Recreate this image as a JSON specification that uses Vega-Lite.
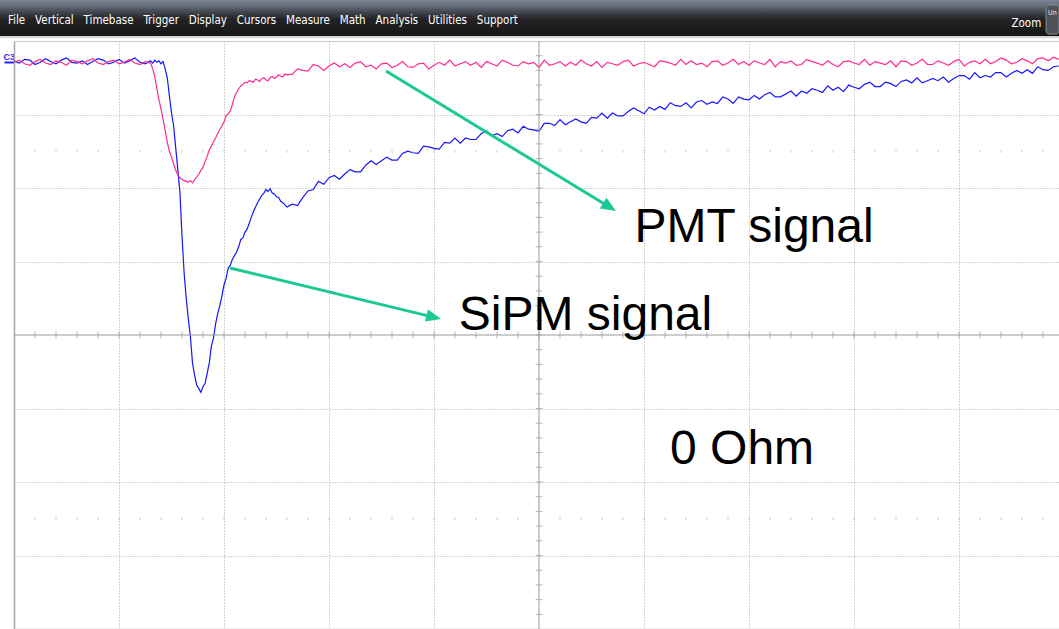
{
  "$schema": "https://vega.github.io/schema/vega-lite/v6.json",
  "padding": 0,
  "spacing": 0,
  "background": "white",
  "config": {"view": {"stroke": null}, "font": "Liberation Sans"},
  "datasets": {
    "traces": [
      {"t":0,"SiPM":3.73,"PMT":3.71},{"t":0.05,"SiPM":3.7,"PMT":3.74},{"t":0.1,"SiPM":3.75,"PMT":3.69},
      {"t":0.15,"SiPM":3.74,"PMT":3.67},{"t":0.2,"SiPM":3.68,"PMT":3.72},{"t":0.25,"SiPM":3.71,"PMT":3.75},
      {"t":0.3,"SiPM":3.76,"PMT":3.7},{"t":0.35,"SiPM":3.72,"PMT":3.68},{"t":0.4,"SiPM":3.69,"PMT":3.73},
      {"t":0.45,"SiPM":3.74,"PMT":3.71},{"t":0.5,"SiPM":3.77,"PMT":3.67},{"t":0.55,"SiPM":3.71,"PMT":3.74},
      {"t":0.6,"SiPM":3.7,"PMT":3.72},{"t":0.65,"SiPM":3.73,"PMT":3.69},{"t":0.7,"SiPM":3.68,"PMT":3.73},
      {"t":0.75,"SiPM":3.72,"PMT":3.76},{"t":0.8,"SiPM":3.76,"PMT":3.7},{"t":0.85,"SiPM":3.74,"PMT":3.68},
      {"t":0.9,"SiPM":3.69,"PMT":3.72},{"t":0.95,"SiPM":3.71,"PMT":3.74},{"t":1,"SiPM":3.75,"PMT":3.69},
      {"t":1.05,"SiPM":3.7,"PMT":3.71},{"t":1.1,"SiPM":3.73,"PMT":3.75},{"t":1.15,"SiPM":3.77,"PMT":3.7},
      {"t":1.2,"SiPM":3.71,"PMT":3.68},{"t":1.25,"SiPM":3.69,"PMT":3.72},{"t":1.3,"SiPM":3.73,"PMT":3.7},
      {"t":1.32,"SiPM":3.7,"PMT":3.63},{"t":1.34,"SiPM":3.74,"PMT":3.52},{"t":1.36,"SiPM":3.71,"PMT":3.36},
      {"t":1.38,"SiPM":3.73,"PMT":3.2},{"t":1.4,"SiPM":3.69,"PMT":3.08},{"t":1.42,"SiPM":3.72,"PMT":2.93},
      {"t":1.44,"SiPM":3.62,"PMT":2.78},{"t":1.46,"SiPM":3.5,"PMT":2.62},{"t":1.48,"SiPM":3.25,"PMT":2.5},
      {"t":1.5,"SiPM":3.02,"PMT":2.42},{"t":1.52,"SiPM":2.85,"PMT":2.33},{"t":1.54,"SiPM":2.55,"PMT":2.24},
      {"t":1.56,"SiPM":2.25,"PMT":2.18},{"t":1.58,"SiPM":1.95,"PMT":2.14},{"t":1.6,"SiPM":1.35,"PMT":2.12},
      {"t":1.62,"SiPM":0.85,"PMT":2.1},{"t":1.64,"SiPM":0.5,"PMT":2.09},{"t":1.66,"SiPM":0.22,"PMT":2.08},
      {"t":1.68,"SiPM":-0.02,"PMT":2.1},{"t":1.7,"SiPM":-0.38,"PMT":2.07},{"t":1.72,"SiPM":-0.55,"PMT":2.11},
      {"t":1.74,"SiPM":-0.68,"PMT":2.15},{"t":1.76,"SiPM":-0.73,"PMT":2.19},{"t":1.78,"SiPM":-0.78,"PMT":2.24},
      {"t":1.8,"SiPM":-0.7,"PMT":2.28},{"t":1.82,"SiPM":-0.66,"PMT":2.36},{"t":1.84,"SiPM":-0.52,"PMT":2.43},
      {"t":1.86,"SiPM":-0.38,"PMT":2.52},{"t":1.88,"SiPM":-0.15,"PMT":2.57},{"t":1.9,"SiPM":-0.04,"PMT":2.63},
      {"t":1.92,"SiPM":0.15,"PMT":2.68},{"t":1.94,"SiPM":0.29,"PMT":2.74},{"t":1.96,"SiPM":0.4,"PMT":2.8},
      {"t":1.98,"SiPM":0.53,"PMT":2.84},{"t":2,"SiPM":0.68,"PMT":2.9},{"t":2.02,"SiPM":0.77,"PMT":2.98},
      {"t":2.04,"SiPM":0.91,"PMT":3.01},{"t":2.06,"SiPM":0.95,"PMT":3.05},{"t":2.08,"SiPM":1.03,"PMT":3.14},
      {"t":2.1,"SiPM":1.08,"PMT":3.24},{"t":2.12,"SiPM":1.13,"PMT":3.3},{"t":2.14,"SiPM":1.2,"PMT":3.35},
      {"t":2.16,"SiPM":1.3,"PMT":3.39},{"t":2.18,"SiPM":1.32,"PMT":3.41},{"t":2.2,"SiPM":1.4,"PMT":3.44},
      {"t":2.22,"SiPM":1.44,"PMT":3.43},{"t":2.24,"SiPM":1.52,"PMT":3.46},{"t":2.26,"SiPM":1.6,"PMT":3.45},
      {"t":2.28,"SiPM":1.68,"PMT":3.44},{"t":2.3,"SiPM":1.74,"PMT":3.48},{"t":2.32,"SiPM":1.8,"PMT":3.47},
      {"t":2.34,"SiPM":1.85,"PMT":3.45},{"t":2.36,"SiPM":1.9,"PMT":3.49},{"t":2.38,"SiPM":1.93,"PMT":3.5},
      {"t":2.4,"SiPM":1.98,"PMT":3.47},{"t":2.42,"SiPM":1.95,"PMT":3.46},{"t":2.44,"SiPM":1.99,"PMT":3.5},
      {"t":2.46,"SiPM":1.93,"PMT":3.52},{"t":2.48,"SiPM":1.92,"PMT":3.49},{"t":2.5,"SiPM":1.88,"PMT":3.51},
      {"t":2.52,"SiPM":1.87,"PMT":3.54},{"t":2.54,"SiPM":1.82,"PMT":3.52},{"t":2.56,"SiPM":1.8,"PMT":3.51},
      {"t":2.58,"SiPM":1.77,"PMT":3.55},{"t":2.6,"SiPM":1.74,"PMT":3.54},
      {"t":2.65,"SiPM":1.78,"PMT":3.55},{"t":2.7,"SiPM":1.76,"PMT":3.62},{"t":2.75,"SiPM":1.87,"PMT":3.6},
      {"t":2.8,"SiPM":1.96,"PMT":3.59},{"t":2.85,"SiPM":1.98,"PMT":3.68},{"t":2.9,"SiPM":2.09,"PMT":3.66},
      {"t":2.95,"SiPM":2.05,"PMT":3.6},{"t":3,"SiPM":2.14,"PMT":3.66},{"t":3.05,"SiPM":2.17,"PMT":3.7},
      {"t":3.1,"SiPM":2.12,"PMT":3.65},{"t":3.15,"SiPM":2.19,"PMT":3.69},{"t":3.2,"SiPM":2.25,"PMT":3.64},
      {"t":3.25,"SiPM":2.22,"PMT":3.7},{"t":3.3,"SiPM":2.22,"PMT":3.72},{"t":3.35,"SiPM":2.31,"PMT":3.65},
      {"t":3.4,"SiPM":2.37,"PMT":3.67},{"t":3.45,"SiPM":2.32,"PMT":3.62},{"t":3.5,"SiPM":2.37,"PMT":3.69},
      {"t":3.55,"SiPM":2.42,"PMT":3.7},{"t":3.6,"SiPM":2.38,"PMT":3.64},{"t":3.65,"SiPM":2.38,"PMT":3.67},
      {"t":3.7,"SiPM":2.47,"PMT":3.72},{"t":3.75,"SiPM":2.5,"PMT":3.65},{"t":3.8,"SiPM":2.48,"PMT":3.64},
      {"t":3.85,"SiPM":2.47,"PMT":3.69},{"t":3.9,"SiPM":2.57,"PMT":3.7},{"t":3.95,"SiPM":2.56,"PMT":3.62},
      {"t":4,"SiPM":2.54,"PMT":3.67},{"t":4.05,"SiPM":2.53,"PMT":3.71},{"t":4.1,"SiPM":2.62,"PMT":3.67},
      {"t":4.15,"SiPM":2.61,"PMT":3.74},{"t":4.2,"SiPM":2.68,"PMT":3.66},{"t":4.25,"SiPM":2.61,"PMT":3.69},
      {"t":4.3,"SiPM":2.68,"PMT":3.72},{"t":4.35,"SiPM":2.66,"PMT":3.67},{"t":4.4,"SiPM":2.66,"PMT":3.71},
      {"t":4.45,"SiPM":2.74,"PMT":3.64},{"t":4.5,"SiPM":2.78,"PMT":3.72},{"t":4.55,"SiPM":2.71,"PMT":3.69},
      {"t":4.6,"SiPM":2.74,"PMT":3.66},{"t":4.65,"SiPM":2.7,"PMT":3.74},{"t":4.7,"SiPM":2.78,"PMT":3.71},
      {"t":4.75,"SiPM":2.8,"PMT":3.67},{"t":4.8,"SiPM":2.75,"PMT":3.66},{"t":4.85,"SiPM":2.84,"PMT":3.72},
      {"t":4.9,"SiPM":2.8,"PMT":3.69},{"t":4.95,"SiPM":2.79,"PMT":3.71},{"t":5,"SiPM":2.77,"PMT":3.64},
      {"t":5.05,"SiPM":2.88,"PMT":3.74},{"t":5.1,"SiPM":2.88,"PMT":3.67},{"t":5.15,"SiPM":2.85,"PMT":3.69},
      {"t":5.2,"SiPM":2.93,"PMT":3.72},{"t":5.25,"SiPM":2.86,"PMT":3.66},{"t":5.3,"SiPM":2.9,"PMT":3.71},
      {"t":5.35,"SiPM":2.94,"PMT":3.67},{"t":5.4,"SiPM":2.9,"PMT":3.74},{"t":5.45,"SiPM":2.88,"PMT":3.69},
      {"t":5.5,"SiPM":2.96,"PMT":3.66},{"t":5.55,"SiPM":2.95,"PMT":3.72},{"t":5.6,"SiPM":3.02,"PMT":3.64},
      {"t":5.65,"SiPM":2.95,"PMT":3.71},{"t":5.7,"SiPM":3.02,"PMT":3.69},{"t":5.75,"SiPM":2.98,"PMT":3.67},
      {"t":5.8,"SiPM":2.98,"PMT":3.72},{"t":5.85,"SiPM":3.04,"PMT":3.74},{"t":5.9,"SiPM":3.09,"PMT":3.66},
      {"t":5.95,"SiPM":3.05,"PMT":3.69},{"t":6,"SiPM":3.01,"PMT":3.71},{"t":6.05,"SiPM":3.1,"PMT":3.68},
      {"t":6.1,"SiPM":3.06,"PMT":3.65},{"t":6.15,"SiPM":3.11,"PMT":3.73},{"t":6.2,"SiPM":3.07,"PMT":3.72},
      {"t":6.25,"SiPM":3.16,"PMT":3.7},{"t":6.3,"SiPM":3.12,"PMT":3.67},{"t":6.35,"SiPM":3.11,"PMT":3.75},
      {"t":6.4,"SiPM":3.16,"PMT":3.68},{"t":6.45,"SiPM":3.09,"PMT":3.73},{"t":6.5,"SiPM":3.17,"PMT":3.68},
      {"t":6.55,"SiPM":3.19,"PMT":3.7},{"t":6.6,"SiPM":3.14,"PMT":3.65},{"t":6.65,"SiPM":3.17,"PMT":3.72},
      {"t":6.7,"SiPM":3.15,"PMT":3.73},{"t":6.75,"SiPM":3.24,"PMT":3.67},{"t":6.8,"SiPM":3.21,"PMT":3.7},
      {"t":6.85,"SiPM":3.15,"PMT":3.75},{"t":6.9,"SiPM":3.24,"PMT":3.68},{"t":6.95,"SiPM":3.21,"PMT":3.72},
      {"t":7,"SiPM":3.2,"PMT":3.67},{"t":7.05,"SiPM":3.26,"PMT":3.73},{"t":7.1,"SiPM":3.21,"PMT":3.7},
      {"t":7.15,"SiPM":3.27,"PMT":3.68},{"t":7.2,"SiPM":3.3,"PMT":3.75},{"t":7.25,"SiPM":3.24,"PMT":3.65},
      {"t":7.3,"SiPM":3.24,"PMT":3.72},{"t":7.35,"SiPM":3.28,"PMT":3.7},{"t":7.4,"SiPM":3.32,"PMT":3.73},
      {"t":7.45,"SiPM":3.25,"PMT":3.67},{"t":7.5,"SiPM":3.32,"PMT":3.68},{"t":7.55,"SiPM":3.29,"PMT":3.75},
      {"t":7.6,"SiPM":3.35,"PMT":3.72},{"t":7.65,"SiPM":3.33,"PMT":3.7},{"t":7.7,"SiPM":3.3,"PMT":3.67},
      {"t":7.75,"SiPM":3.39,"PMT":3.73},{"t":7.8,"SiPM":3.33,"PMT":3.68},{"t":7.85,"SiPM":3.37,"PMT":3.65},
      {"t":7.9,"SiPM":3.31,"PMT":3.72},{"t":7.95,"SiPM":3.4,"PMT":3.73},{"t":8,"SiPM":3.37,"PMT":3.7},
      {"t":8.05,"SiPM":3.35,"PMT":3.68},{"t":8.1,"SiPM":3.41,"PMT":3.75},{"t":8.15,"SiPM":3.44,"PMT":3.67},
      {"t":8.2,"SiPM":3.38,"PMT":3.72},{"t":8.25,"SiPM":3.38,"PMT":3.7},{"t":8.3,"SiPM":3.44,"PMT":3.68},
      {"t":8.35,"SiPM":3.42,"PMT":3.73},{"t":8.4,"SiPM":3.38,"PMT":3.65},{"t":8.45,"SiPM":3.45,"PMT":3.73},
      {"t":8.5,"SiPM":3.47,"PMT":3.72},{"t":8.55,"SiPM":3.43,"PMT":3.67},{"t":8.6,"SiPM":3.5,"PMT":3.7},
      {"t":8.65,"SiPM":3.43,"PMT":3.75},{"t":8.7,"SiPM":3.46,"PMT":3.68},{"t":8.75,"SiPM":3.49,"PMT":3.68},
      {"t":8.8,"SiPM":3.46,"PMT":3.73},{"t":8.85,"SiPM":3.51,"PMT":3.7},{"t":8.9,"SiPM":3.44,"PMT":3.67},
      {"t":8.95,"SiPM":3.49,"PMT":3.72},{"t":9,"SiPM":3.53,"PMT":3.75},{"t":9.05,"SiPM":3.53,"PMT":3.66},
      {"t":9.1,"SiPM":3.48,"PMT":3.71},{"t":9.15,"SiPM":3.57,"PMT":3.73},{"t":9.2,"SiPM":3.5,"PMT":3.69},
      {"t":9.25,"SiPM":3.53,"PMT":3.75},{"t":9.3,"SiPM":3.51,"PMT":3.69},{"t":9.35,"SiPM":3.57,"PMT":3.72},
      {"t":9.4,"SiPM":3.57,"PMT":3.77},{"t":9.45,"SiPM":3.51,"PMT":3.74},{"t":9.5,"SiPM":3.56,"PMT":3.69},
      {"t":9.55,"SiPM":3.6,"PMT":3.71},{"t":9.6,"SiPM":3.56,"PMT":3.76},{"t":9.65,"SiPM":3.61,"PMT":3.73},
      {"t":9.7,"SiPM":3.56,"PMT":3.69},{"t":9.75,"SiPM":3.65,"PMT":3.76},{"t":9.8,"SiPM":3.61,"PMT":3.77},
      {"t":9.85,"SiPM":3.6,"PMT":3.73},{"t":9.9,"SiPM":3.65,"PMT":3.78},{"t":9.95,"SiPM":3.66,"PMT":3.75}
    ],
    "xticks": [
      {"t":0.2},{"t":0.4},{"t":0.6},{"t":0.8},{"t":1},{"t":1.2},{"t":1.4},{"t":1.6},{"t":1.8},{"t":2},
      {"t":2.2},{"t":2.4},{"t":2.6},{"t":2.8},{"t":3},{"t":3.2},{"t":3.4},{"t":3.6},{"t":3.8},{"t":4},
      {"t":4.2},{"t":4.4},{"t":4.6},{"t":4.8},{"t":5},{"t":5.2},{"t":5.4},{"t":5.6},{"t":5.8},{"t":6},
      {"t":6.2},{"t":6.4},{"t":6.6},{"t":6.8},{"t":7},{"t":7.2},{"t":7.4},{"t":7.6},{"t":7.8},{"t":8},
      {"t":8.2},{"t":8.4},{"t":8.6},{"t":8.8},{"t":9},{"t":9.2},{"t":9.4},{"t":9.6},{"t":9.8}
    ],
    "yticks": [
      {"v":-3.8},{"v":-3.6},{"v":-3.4},{"v":-3.2},{"v":-3},{"v":-2.8},{"v":-2.6},{"v":-2.4},{"v":-2.2},{"v":-2},
      {"v":-1.8},{"v":-1.6},{"v":-1.4},{"v":-1.2},{"v":-1},{"v":-0.8},{"v":-0.6},{"v":-0.4},{"v":-0.2},{"v":0},
      {"v":0.2},{"v":0.4},{"v":0.6},{"v":0.8},{"v":1},{"v":1.2},{"v":1.4},{"v":1.6},{"v":1.8},{"v":2},
      {"v":2.2},{"v":2.4},{"v":2.6},{"v":2.8},{"v":3},{"v":3.2},{"v":3.4},{"v":3.6},{"v":3.8}
    ]
  },
  "vconcat": [
    {
      "width": 1045,
      "height": 40,
      "layer": [
        {
          "data": {"values": [{}]},
          "mark": {
            "type": "rect",
            "color": {
              "gradient": "linear", "x1": 0, "y1": 0, "x2": 0, "y2": 1,
              "stops": [
                {"offset": 0, "color": "#7d8595"},
                {"offset": 0.15, "color": "#646b79"},
                {"offset": 0.32, "color": "#3e424a"},
                {"offset": 0.48, "color": "#232325"},
                {"offset": 0.895, "color": "#161616"},
                {"offset": 0.9, "color": "#cdcdcd"},
                {"offset": 0.95, "color": "#d9d9d9"},
                {"offset": 0.955, "color": "#f6f6f6"},
                {"offset": 1, "color": "#ffffff"}
              ]
            }
          },
          "encoding": {
            "x": {"datum": -0.013397, "type": "quantitative", "scale": {"domain": [0, 1], "nice": false}, "axis": null},
            "x2": {"datum": 1},
            "y": {"datum": 0, "type": "quantitative", "scale": {"domain": [0, 1], "nice": false}, "axis": null},
            "y2": {"datum": 1}
          }
        },
        {
          "data": {"values": [{"label": "File\u00a0\u00a0\u00a0Vertical\u00a0\u00a0\u00a0Timebase\u00a0\u00a0\u00a0Trigger\u00a0\u00a0\u00a0Display\u00a0\u00a0\u00a0Cursors\u00a0\u00a0\u00a0Measure\u00a0\u00a0\u00a0Math\u00a0\u00a0\u00a0Analysis\u00a0\u00a0\u00a0Utilities\u00a0\u00a0\u00a0Support"}]},
          "mark": {"type": "text", "align": "left", "baseline": "alphabetic", "font": "DejaVu Sans Condensed, Liberation Sans Narrow, Roboto Condensed, Roboto, sans-serif", "fontSize": 11.5, "color": "#ffffff"},
          "encoding": {
            "x": {"datum": -0.00574, "type": "quantitative"},
            "y": {"datum": 0.4, "type": "quantitative"},
            "text": {"field": "label"}
          }
        },
        {
          "data": {"values": [{"label": "Zoom"}]},
          "mark": {"type": "text", "align": "left", "baseline": "alphabetic", "font": "DejaVu Sans Condensed, Liberation Sans Narrow, Roboto Condensed, Roboto, sans-serif", "fontSize": 11.5, "color": "#ffffff"},
          "encoding": {
            "x": {"datum": 0.9545, "type": "quantitative"},
            "y": {"datum": 0.33, "type": "quantitative"},
            "text": {"field": "label"}
          }
        },
        {
          "data": {"values": [{}]},
          "mark": {"type": "rect", "color": "#4e5158", "stroke": "#8a8d94", "strokeWidth": 1, "cornerRadius": 3},
          "encoding": {
            "x": {"datum": 0.9876, "type": "quantitative"},
            "x2": {"datum": 1.0},
            "y": {"datum": 0.875, "type": "quantitative"},
            "y2": {"datum": 0.15}
          }
        },
        {
          "data": {"values": [{"label": "Un"}]},
          "mark": {"type": "text", "align": "left", "baseline": "alphabetic", "font": "DejaVu Sans Condensed, Liberation Sans Narrow, Roboto Condensed, Roboto, sans-serif", "fontSize": 7, "color": "#e8e8e8"},
          "encoding": {
            "x": {"datum": 0.9895, "type": "quantitative"},
            "y": {"datum": 0.62, "type": "quantitative"},
            "text": {"field": "label"}
          }
        }
      ]
    },
    {
      "width": 1045,
      "height": 588,
      "layer": [
        {
          "data": {"name": "traces"},
          "mark": {"type": "line", "color": "#1616ff", "strokeWidth": 1.2},
          "encoding": {
            "x": {
              "field": "t", "type": "quantitative",
              "scale": {"domain": [0, 9.9524], "nice": false, "zero": false},
              "axis": {
                "values": [1, 2, 3, 4, 6, 7, 8, 9],
                "title": null, "grid": true, "gridColor": "#a8a8a8", "gridDash": [1, 2],
                "ticks": false, "labels": false,
                "domain": true, "domainColor": "#c4c4c4", "domainWidth": 1.5,
                "minExtent": 0, "maxExtent": 0
              }
            },
            "y": {
              "field": "SiPM", "type": "quantitative",
              "scale": {"domain": [-4, 4], "nice": false, "zero": false},
              "axis": {
                "values": [-3, -2, -1, 1, 2, 3, 3.72, 4],
                "title": null,
                "grid": true,
                "gridColor": {"condition": {"test": "datum.value === 4", "value": "#cacaca"}, "value": "#a8a8a8"},
                "gridDash": {"condition": {"test": "datum.value === 4", "value": []}, "value": [1, 2]},
                "gridOpacity": {"condition": {"test": "datum.value === 3.72", "value": 0}, "value": 1},
                "ticks": true, "tickSize": 10, "tickWidth": 2, "tickColor": "#2424ff",
                "tickOpacity": {"condition": {"test": "datum.value === 3.72", "value": 1}, "value": 0},
                "labelExpr": "datum.value === 3.72 ? 'C3' : ''",
                "labelColor": "#3a2cff", "labelFontSize": 9, "labelFontWeight": "bold",
                "labelAlign": "left", "labelBaseline": "bottom", "labelPadding": 1,
                "domain": true, "domainColor": "#a8a8a8", "domainWidth": 1.5,
                "minExtent": 14, "maxExtent": 14
              }
            }
          }
        },
        {
          "data": {"name": "traces"},
          "mark": {"type": "line", "color": "#ff2a8f", "strokeWidth": 1.2},
          "encoding": {
            "x": {"field": "t", "type": "quantitative"},
            "y": {"field": "PMT", "type": "quantitative"}
          }
        },
        {
          "data": {"values": [{}]},
          "mark": {"type": "rule", "color": "#9a9a9a", "strokeWidth": 1},
          "encoding": {"x": {"datum": 5}}
        },
        {
          "data": {"values": [{}]},
          "mark": {"type": "rule", "color": "#9a9a9a", "strokeWidth": 1},
          "encoding": {"y": {"datum": 0}}
        },
        {
          "data": {"name": "xticks"},
          "mark": {"type": "tick", "orient": "vertical", "size": 7, "thickness": 1, "color": "#9a9a9a"},
          "encoding": {
            "x": {"field": "t", "type": "quantitative"},
            "y": {"datum": 0}
          }
        },
        {
          "data": {"name": "yticks"},
          "mark": {"type": "tick", "orient": "horizontal", "size": 7, "thickness": 1, "color": "#9a9a9a"},
          "encoding": {
            "x": {"datum": 5},
            "y": {"field": "v", "type": "quantitative"}
          }
        },
        {
          "data": {"name": "xticks"},
          "mark": {"type": "tick", "orient": "vertical", "size": 3, "thickness": 1, "color": "#b8b8b8"},
          "encoding": {
            "x": {"field": "t", "type": "quantitative"},
            "y": {"datum": 2.5}
          }
        },
        {
          "data": {"name": "xticks"},
          "mark": {"type": "tick", "orient": "vertical", "size": 3, "thickness": 1, "color": "#b8b8b8"},
          "encoding": {
            "x": {"field": "t", "type": "quantitative"},
            "y": {"datum": -2.5}
          }
        },
        {
          "data": {"values": [{}]},
          "mark": {"type": "rule", "color": "#1ec896", "strokeWidth": 3},
          "encoding": {
            "x": {"datum": 3.543}, "y": {"datum": 3.592},
            "x2": {"datum": 5.651}, "y2": {"datum": 1.758}
          }
        },
        {
          "data": {"values": [{}]},
          "mark": {"type": "point", "shape": "M0,0L-1,-0.42L-1,0.42Z", "filled": true, "opacity": 1, "color": "#1ec896", "size": 900, "angle": 31.3},
          "encoding": {"x": {"datum": 5.733}, "y": {"datum": 1.687}}
        },
        {
          "data": {"values": [{}]},
          "mark": {"type": "rule", "color": "#1ec896", "strokeWidth": 3},
          "encoding": {
            "x": {"datum": 2.057}, "y": {"datum": 0.912},
            "x2": {"datum": 3.974}, "y2": {"datum": 0.25}
          }
        },
        {
          "data": {"values": [{}]},
          "mark": {"type": "point", "shape": "M0,0L-1,-0.42L-1,0.42Z", "filled": true, "opacity": 1, "color": "#1ec896", "size": 900, "angle": 13.6},
          "encoding": {"x": {"datum": 4.067}, "y": {"datum": 0.218}}
        },
        {
          "data": {"values": [{"label": "PMT signal"}]},
          "mark": {"type": "text", "align": "left", "baseline": "alphabetic", "font": "Liberation Sans", "fontSize": 48, "color": "#000000"},
          "encoding": {"x": {"datum": 5.909}, "y": {"datum": 1.265}, "text": {"field": "label"}}
        },
        {
          "data": {"values": [{"label": "SiPM signal"}]},
          "mark": {"type": "text", "align": "left", "baseline": "alphabetic", "font": "Liberation Sans", "fontSize": 48, "color": "#000000"},
          "encoding": {"x": {"datum": 4.236}, "y": {"datum": 0.068}, "text": {"field": "label"}}
        },
        {
          "data": {"values": [{"label": "0 Ohm"}]},
          "mark": {"type": "text", "align": "left", "baseline": "alphabetic", "font": "Liberation Sans", "fontSize": 48, "color": "#000000"},
          "encoding": {"x": {"datum": 6.248}, "y": {"datum": -1.755}, "text": {"field": "label"}}
        }
      ]
    }
  ]
}
